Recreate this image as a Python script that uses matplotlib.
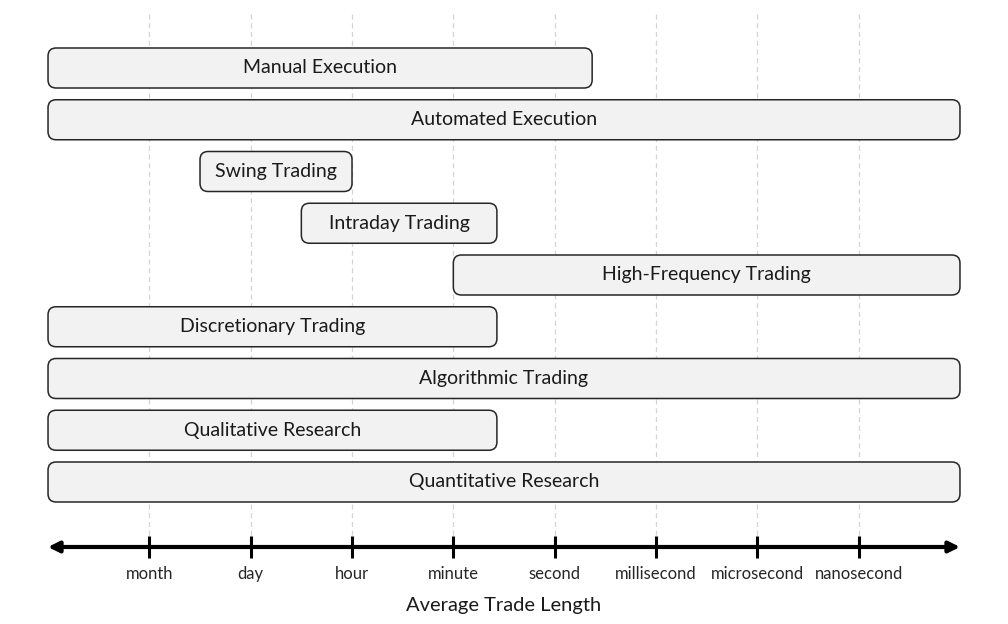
import matplotlib.pyplot as plt
from matplotlib.patches import FancyBboxPatch

plt.rcParams['font.family'] = ['Lato', 'DejaVu Sans']

# activities and the span of trade lengths they cover (0 = longest, 9 = shortest)
activities = ['Manual Execution', 'Automated Execution', 'Swing Trading',
              'Intraday Trading', 'High-Frequency Trading', 'Discretionary Trading',
              'Algorithmic Trading', 'Qualitative Research', 'Quantitative Research']
span_start = [0, 0, 1.5, 2.5, 4.0, 0, 0, 0, 0]
span_end = [5.37, 9, 3.0, 4.43, 9, 4.43, 9, 4.43, 9]

time_labels = ['month', 'day', 'hour', 'minute', 'second',
               'millisecond', 'microsecond', 'nanosecond']
time_pos = [1, 2, 3, 4, 5, 6, 7, 8]

fig = plt.figure(figsize=(10.08, 6.24), dpi=100)
ax = fig.add_axes([0, 0, 1, 1])
ax.set_xlim(-0.474, 9.474)
ax.set_ylim(10.744, -1.314)

axis_y = 9.256
box_h = 0.773

# dashed guide lines behind the boxes
ax.vlines(time_pos, -1.04, axis_y - 0.2, colors='#d4d4d4', linestyles=(0, (4, 3)),
          linewidth=0.9, zorder=0)

for i, (name, s, e) in enumerate(zip(activities, span_start, span_end)):
    box = FancyBboxPatch((s, i - box_h / 2), e - s, box_h,
                         boxstyle='round,pad=0,rounding_size=0.08',
                         mutation_aspect=1.96,
                         facecolor='#f2f2f2', edgecolor='#262626', linewidth=1.1,
                         zorder=2)
    ax.add_patch(box)
    ax.text((s + e) / 2, i, name, ha='center', va='center', fontsize=14,
            color='#1a1a1a', zorder=3)

# time axis with arrows at both ends
ax.annotate('', xy=(0, axis_y), xytext=(9, axis_y),
            arrowprops=dict(arrowstyle='<|-|>', lw=3, color='black',
                            mutation_scale=16, shrinkA=0, shrinkB=0))

for s in ['top', 'left', 'right', 'bottom']:
    ax.spines[s].set_visible(False)
ax.spines['bottom'].set_position(('data', axis_y))
ax.set_yticks([])
ax.set_xticks(time_pos)
ax.set_xticklabels(time_labels, fontsize=12, color='#262626')
ax.tick_params(axis='x', direction='inout', length=16, width=2.2, color='black', pad=6)

ax.text(4.5, 10.39, 'Average Trade Length', ha='center', va='center', fontsize=14.5,
        color='#1a1a1a')

fig.savefig('out.png', dpi=100)
